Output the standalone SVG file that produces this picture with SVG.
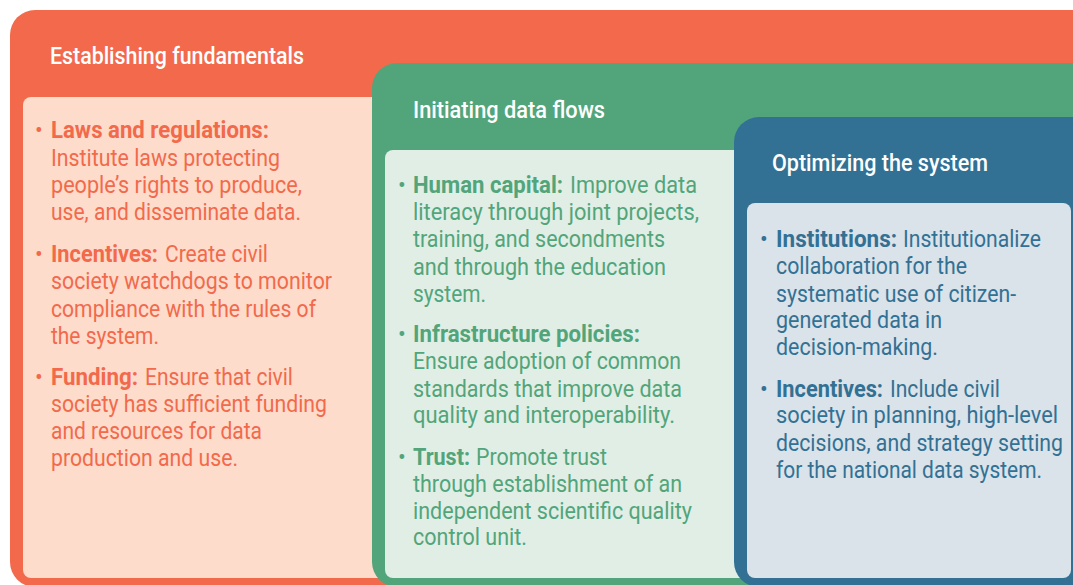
<svg xmlns="http://www.w3.org/2000/svg" width="1073" height="585" viewBox="0 0 1073 585">
<style>
text{font-family:Roboto,"Liberation Sans",sans-serif;font-size:23px}
.t{fill:#fff;font-size:24px;font-weight:500}
.b{font-weight:700}
.o{fill:#F26A4B}
.g{fill:#52A57A}
.u{fill:#327193}
</style>
<rect width="1073" height="585" fill="#fff"/>
<g id="establishing-fundamentals">
<rect x="10" y="10" width="1100" height="577" rx="25" fill="#F26A4B"/>
<rect x="23" y="97" width="420" height="481" rx="8" fill="#FDDCCC"/>
<text class="t" x="50" y="64" textLength="254" lengthAdjust="spacingAndGlyphs">Establishing fundamentals</text>
<text class="o" x="35" y="138">•</text>
<text class="o b" x="51" y="138" textLength="218" lengthAdjust="spacingAndGlyphs">Laws and regulations:</text>
<text class="o" x="51" y="166" textLength="229" lengthAdjust="spacingAndGlyphs">Institute laws protecting</text>
<text class="o" x="51" y="193" textLength="251" lengthAdjust="spacingAndGlyphs">people’s rights to produce,</text>
<text class="o" x="51" y="220" textLength="250" lengthAdjust="spacingAndGlyphs">use, and disseminate data.</text>
<text class="o" x="35" y="262">•</text>
<text class="o b" x="51" y="262" textLength="107" lengthAdjust="spacingAndGlyphs">Incentives:</text>
<text class="o" x="165" y="262" textLength="103" lengthAdjust="spacingAndGlyphs">Create civil</text>
<text class="o" x="51" y="289" textLength="281" lengthAdjust="spacingAndGlyphs">society watchdogs to monitor</text>
<text class="o" x="51" y="317" textLength="265" lengthAdjust="spacingAndGlyphs">compliance with the rules of</text>
<text class="o" x="51" y="344" textLength="108" lengthAdjust="spacingAndGlyphs">the system.</text>
<text class="o" x="35" y="385">•</text>
<text class="o b" x="51" y="385" textLength="87" lengthAdjust="spacingAndGlyphs">Funding:</text>
<text class="o" x="145" y="385" textLength="148" lengthAdjust="spacingAndGlyphs">Ensure that civil</text>
<text class="o" x="51" y="412" textLength="276" lengthAdjust="spacingAndGlyphs">society has sufficient funding</text>
<text class="o" x="51" y="439" textLength="211" lengthAdjust="spacingAndGlyphs">and resources for data</text>
<text class="o" x="51" y="466" textLength="187" lengthAdjust="spacingAndGlyphs">production and use.</text>
</g>
<g id="initiating-data-flows">
<rect x="372" y="63" width="760" height="524" rx="25" fill="#52A57A"/>
<rect x="385" y="150" width="420" height="428" rx="8" fill="#E0EEE5"/>
<text class="t" x="413" y="118" textLength="192" lengthAdjust="spacingAndGlyphs">Initiating data flows</text>
<text class="g" x="398" y="193">•</text>
<text class="g b" x="413" y="193" textLength="150" lengthAdjust="spacingAndGlyphs">Human capital:</text>
<text class="g" x="570" y="193" textLength="127" lengthAdjust="spacingAndGlyphs">Improve data</text>
<text class="g" x="413" y="220" textLength="286" lengthAdjust="spacingAndGlyphs">literacy through joint projects,</text>
<text class="g" x="413" y="247" textLength="252" lengthAdjust="spacingAndGlyphs">training, and secondments</text>
<text class="g" x="413" y="275" textLength="253" lengthAdjust="spacingAndGlyphs">and through the education</text>
<text class="g" x="413" y="302" textLength="73" lengthAdjust="spacingAndGlyphs">system.</text>
<text class="g" x="398" y="342">•</text>
<text class="g b" x="413" y="342" textLength="227" lengthAdjust="spacingAndGlyphs">Infrastructure policies:</text>
<text class="g" x="413" y="369" textLength="268" lengthAdjust="spacingAndGlyphs">Ensure adoption of common</text>
<text class="g" x="413" y="397" textLength="269" lengthAdjust="spacingAndGlyphs">standards that improve data</text>
<text class="g" x="413" y="423" textLength="262" lengthAdjust="spacingAndGlyphs">quality and interoperability.</text>
<text class="g" x="398" y="465">•</text>
<text class="g b" x="413" y="465" textLength="57" lengthAdjust="spacingAndGlyphs">Trust:</text>
<text class="g" x="476" y="465" textLength="131" lengthAdjust="spacingAndGlyphs">Promote trust</text>
<text class="g" x="413" y="492" textLength="269" lengthAdjust="spacingAndGlyphs">through establishment of an</text>
<text class="g" x="413" y="519" textLength="279" lengthAdjust="spacingAndGlyphs">independent scientific quality</text>
<text class="g" x="413" y="545" textLength="114" lengthAdjust="spacingAndGlyphs">control unit.</text>
</g>
<g id="optimizing-the-system">
<rect x="734" y="117" width="400" height="470" rx="25" fill="#327193"/>
<rect x="747" y="203" width="324" height="375" rx="8" fill="#DAE2EA"/>
<text class="t" x="772" y="171" textLength="216" lengthAdjust="spacingAndGlyphs">Optimizing the system</text>
<text class="u" x="760" y="247">•</text>
<text class="u b" x="776" y="247" textLength="121" lengthAdjust="spacingAndGlyphs">Institutions:</text>
<text class="u" x="903" y="247" textLength="138" lengthAdjust="spacingAndGlyphs">Institutionalize</text>
<text class="u" x="776" y="274" textLength="191" lengthAdjust="spacingAndGlyphs">collaboration for the</text>
<text class="u" x="776" y="302" textLength="240" lengthAdjust="spacingAndGlyphs">systematic use of citizen-</text>
<text class="u" x="776" y="328" textLength="166" lengthAdjust="spacingAndGlyphs">generated data in</text>
<text class="u" x="776" y="355" textLength="162" lengthAdjust="spacingAndGlyphs">decision-making.</text>
<text class="u" x="760" y="397">•</text>
<text class="u b" x="776" y="397" textLength="107" lengthAdjust="spacingAndGlyphs">Incentives:</text>
<text class="u" x="890" y="397" textLength="110" lengthAdjust="spacingAndGlyphs">Include civil</text>
<text class="u" x="776" y="423" textLength="282" lengthAdjust="spacingAndGlyphs">society in planning, high-level</text>
<text class="u" x="776" y="451" textLength="287" lengthAdjust="spacingAndGlyphs">decisions, and strategy setting</text>
<text class="u" x="776" y="478" textLength="266" lengthAdjust="spacingAndGlyphs">for the national data system.</text>
</g>
<g id="connectors"/>
</svg>
